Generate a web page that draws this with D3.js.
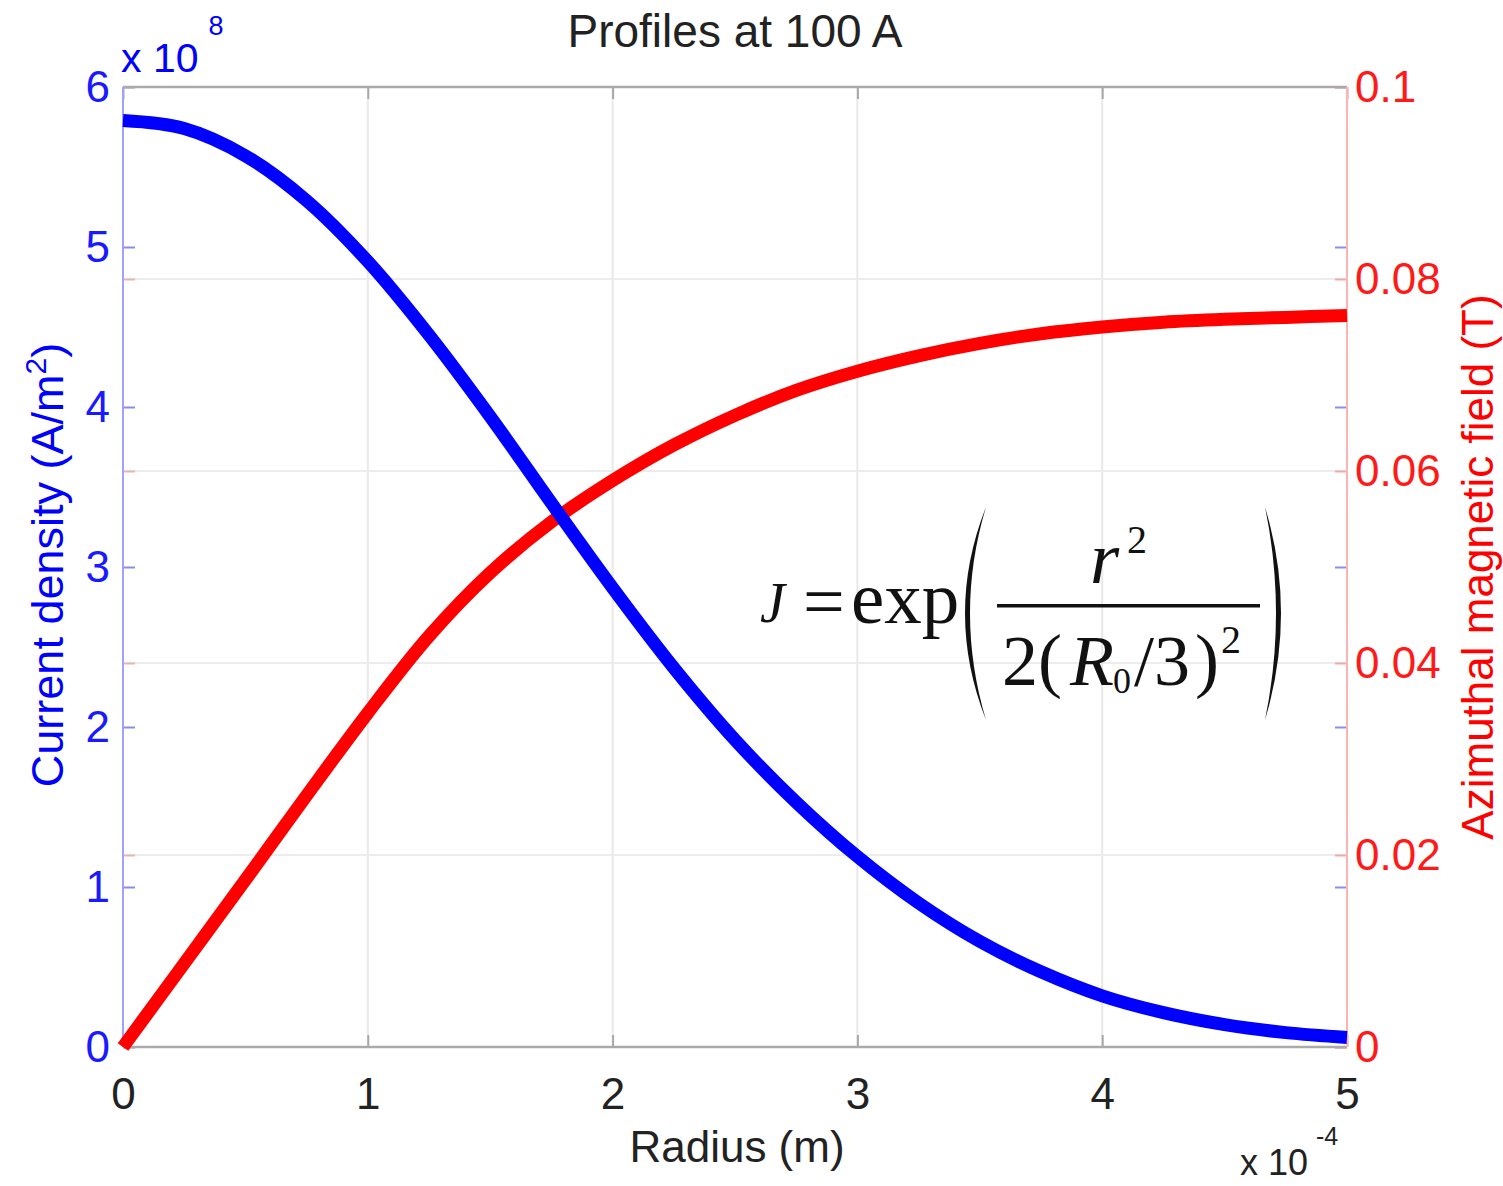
<!DOCTYPE html>
<html>
<head>
<meta charset="utf-8">
<script src="https://cdn.jsdelivr.net/npm/d3@7"></script>
<style>
  body { margin: 0; background: #fff; }
  svg { display: block; font-family: "Liberation Sans", Arial, sans-serif; }
</style>
</head>
<body>
<svg id="chart" width="1503" height="1186"></svg>
<script>
// radius in units of 1e-4 m
let radius = [0, 0.25, 0.5, 0.75, 1, 1.25, 1.5, 1.75, 2, 2.25, 2.5, 2.75, 3, 3.25, 3.5, 3.75, 4, 4.25, 4.5, 4.75, 5];
// current density in units of 1e8 A/m^2
let currentDensity = [5.79, 5.74, 5.57, 5.29, 4.91, 4.45, 3.94, 3.4, 2.87, 2.37, 1.92, 1.53, 1.19, 0.9, 0.66, 0.47, 0.32, 0.215, 0.14, 0.09, 0.06];
// azimuthal field in T
let fieldB = [0, 0.0087, 0.0174, 0.0262, 0.0348, 0.0428, 0.0494, 0.0547, 0.059, 0.0627, 0.0658, 0.0684, 0.0704, 0.072, 0.0733, 0.0743, 0.075, 0.0755, 0.0758, 0.076, 0.0762];

let xTicks = [0, 1, 2, 3, 4, 5];
let leftTicks = [0, 1, 2, 3, 4, 5, 6];
let rightTicks = [0, 0.02, 0.04, 0.06, 0.08, 0.1];

let svg = d3.select('#chart');
let plotLeft = 123, plotRight = 1347, plotTop = 87, plotBottom = 1047;

let x = d3.scaleLinear().domain([0, 5]).range([plotLeft, plotRight]);
let yL = d3.scaleLinear().domain([0, 6]).range([plotBottom, plotTop]);
let yR = d3.scaleLinear().domain([0, 0.1]).range([plotBottom, plotTop]);

let blue = '#0000ff', red = '#ff0000';

// grid
svg.append('g')
	.selectAll('line')
	.data(xTicks.slice(1, -1))
	.enter()
	.append('line')
	.attr('x1', (d) => x(d)).attr('x2', (d) => x(d))
	.attr('y1', plotTop).attr('y2', plotBottom)
	.attr('stroke', '#e8e8e8').attr('stroke-width', 2);
svg.append('g')
	.selectAll('line')
	.data(rightTicks.slice(1, -1))
	.enter()
	.append('line')
	.attr('x1', plotLeft).attr('x2', plotRight)
	.attr('y1', (d) => yR(d)).attr('y2', (d) => yR(d))
	.attr('stroke', '#ececec').attr('stroke-width', 2);

let styleAxis = (g, lineColor, textColor, size) => {
	g.select('.domain').remove();
	g.selectAll('.tick line').attr('stroke', lineColor).attr('stroke-width', 2);
	g.selectAll('.tick text').attr('fill', textColor).attr('font-size', size);
};

// bottom and top x axes
svg.append('g')
	.attr('transform', `translate(0,${plotBottom})`)
	.call(d3.axisBottom(x).tickValues(xTicks).tickSize(-12).tickPadding(31).tickFormat(d3.format('d')))
	.call((g) => styleAxis(g, '#a8a8a8', '#222', 44));
svg.append('g')
	.attr('transform', `translate(0,${plotTop})`)
	.call(d3.axisTop(x).tickValues(xTicks).tickSize(-12).tickFormat(''))
	.call((g) => styleAxis(g, '#a8a8a8', '#222', 44));

// left axis and its mirror ticks on the right
svg.append('g')
	.attr('transform', `translate(${plotLeft},0)`)
	.call(d3.axisLeft(yL).tickValues(leftTicks).tickSize(-12).tickPadding(13).tickFormat(d3.format('d')))
	.call((g) => styleAxis(g, '#8c8cf0', '#1a1aff', 44));
svg.append('g')
	.attr('transform', `translate(${plotRight},0)`)
	.call(d3.axisRight(yL).tickValues(leftTicks).tickSize(-12).tickFormat(''))
	.call((g) => styleAxis(g, '#8c8cf0', blue, 44));

// right axis and its mirror ticks on the left
svg.append('g')
	.attr('transform', `translate(${plotRight},0)`)
	.call(d3.axisRight(yR).tickValues(rightTicks).tickSize(-12).tickPadding(8).tickFormat((d) => (d === 0 ? '0' : d3.format('')(d))))
	.call((g) => styleAxis(g, '#f0a8a8', '#ff1a1a', 44));
svg.append('g')
	.attr('transform', `translate(${plotLeft},0)`)
	.call(d3.axisLeft(yR).tickValues(rightTicks).tickSize(-12).tickFormat(''))
	.call((g) => styleAxis(g, '#f0b0b0', red, 44));

// box lines
svg.append('line').attr('x1', plotLeft).attr('x2', plotRight).attr('y1', plotTop).attr('y2', plotTop)
	.attr('stroke', '#aaaaaa').attr('stroke-width', 2.5);
svg.append('line').attr('x1', plotLeft).attr('x2', plotRight).attr('y1', plotBottom).attr('y2', plotBottom)
	.attr('stroke', '#aaaaaa').attr('stroke-width', 2.5);
svg.append('line').attr('x1', plotLeft).attr('x2', plotLeft).attr('y1', plotTop).attr('y2', plotBottom)
	.attr('stroke', '#a0a0ff').attr('stroke-width', 2);
svg.append('line').attr('x1', plotRight).attr('x2', plotRight).attr('y1', plotTop).attr('y2', plotBottom)
	.attr('stroke', '#ffb4b4').attr('stroke-width', 2);

// curves
let points = radius.map((r, i) => ({ r: r, j: currentDensity[i], b: fieldB[i] }));
let lineJ = d3.line().x((d) => x(d.r)).y((d) => yL(d.j)).curve(d3.curveCatmullRom);
let lineB = d3.line().x((d) => x(d.r)).y((d) => yR(d.b)).curve(d3.curveCatmullRom);

svg.append('path').datum(points).attr('d', lineB)
	.attr('fill', 'none').attr('stroke', red).attr('stroke-width', 13);
svg.append('path').datum(points).attr('d', lineJ)
	.attr('fill', 'none').attr('stroke', blue).attr('stroke-width', 13);

// title and labels
svg.append('text').attr('x', 735).attr('y', 47).attr('text-anchor', 'middle')
	.attr('font-size', 46).attr('fill', '#222').text('Profiles at 100 A');
svg.append('text').attr('x', 737).attr('y', 1162).attr('text-anchor', 'middle')
	.attr('font-size', 44).attr('fill', '#222').text('Radius (m)');

let yLabel = svg.append('text').attr('transform', 'translate(63,565) rotate(-90)')
	.attr('text-anchor', 'middle').attr('font-size', 45).attr('fill', blue);
yLabel.append('tspan').text('Current density (A/m');
yLabel.append('tspan').attr('font-size', 30).attr('dy', -17).text('2');
yLabel.append('tspan').attr('dy', 17).text(')');

svg.append('text').attr('transform', 'translate(1493,567) rotate(-90)')
	.attr('text-anchor', 'middle').attr('font-size', 44).attr('fill', red)
	.text('Azimuthal magnetic field (T)');

// exponent labels
let expL = svg.append('text').attr('x', 121).attr('y', 72).attr('font-size', 41).attr('fill', blue);
expL.append('tspan').text('x 10');
expL.append('tspan').attr('font-size', 27).attr('dy', -37).attr('dx', 10).text('8');

let expB = svg.append('text').attr('x', 1240).attr('y', 1175).attr('font-size', 36).attr('fill', '#222');
expB.append('tspan').text('x 10');
expB.append('tspan').attr('font-size', 25).attr('dy', -30).attr('dx', 8).text('-4');

// formula annotation
let eq = svg.append('g').attr('font-family', '"Liberation Serif", "Times New Roman", serif').attr('fill', '#111');
eq.append('text').attr('x', 760).attr('y', 622).attr('font-size', 56).attr('font-style', 'italic').text('J');
eq.append('text').attr('x', 803).attr('y', 626).attr('font-size', 74).text('=');
eq.append('text').attr('x', 851).attr('y', 623).attr('font-size', 75).text('exp');
eq.append('path').attr('d', 'M986,507 Q944,613 986,720 Q954,613 986,507 Z');
eq.append('path').attr('d', 'M1265,507 Q1297,613 1265,720 Q1287,613 1265,507 Z');
eq.append('rect').attr('x', 997).attr('y', 604).attr('width', 263).attr('height', 3.5);
eq.append('text').attr('x', 1090).attr('y', 583).attr('font-size', 75).attr('font-style', 'italic').text('r');
eq.append('text').attr('x', 1127).attr('y', 553).attr('font-size', 40).text('2');
eq.append('text').attr('x', 1002).attr('y', 685).attr('font-size', 72).text('2');
eq.append('text').attr('x', 1038).attr('y', 684).attr('font-size', 72).text('(');
eq.append('text').attr('x', 1070).attr('y', 685).attr('font-size', 72).attr('font-style', 'italic').text('R');
eq.append('text').attr('x', 1113).attr('y', 693).attr('font-size', 36).text('0');
eq.append('text').attr('x', 1134).attr('y', 685).attr('font-size', 72).text('/');
eq.append('text').attr('x', 1154).attr('y', 685).attr('font-size', 72).text('3');
eq.append('text').attr('x', 1195).attr('y', 684).attr('font-size', 72).text(')');
eq.append('text').attr('x', 1221).attr('y', 653).attr('font-size', 40).text('2');
</script>
</body>
</html>
